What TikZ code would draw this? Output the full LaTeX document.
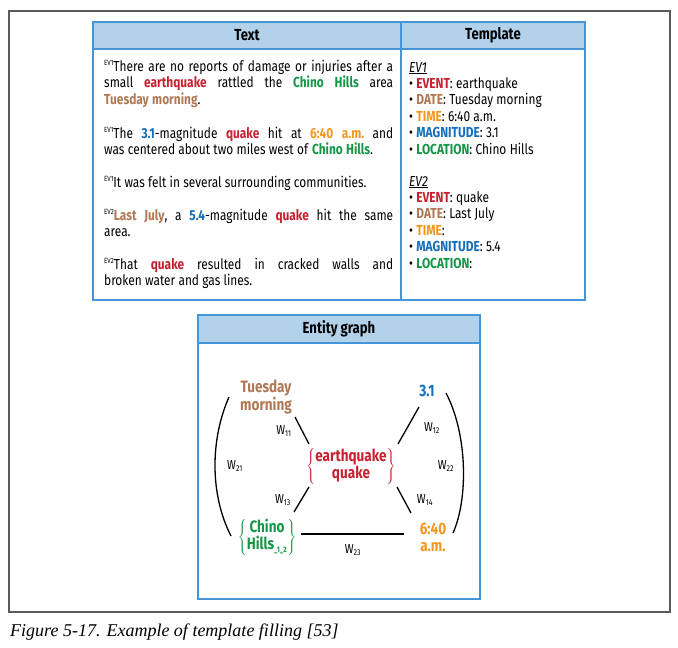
\documentclass[tikz,border=0pt]{standalone}
\usepackage{fontspec}
\setmainfont{Fira Sans}[FakeStretch=0.82]
\newfontfamily\capfont{Liberation Serif}
\usetikzlibrary{calc}
\definecolor{ored}{RGB}{200,32,48}
\definecolor{obrown}{RGB}{176,120,84}
\definecolor{ogreen}{RGB}{20,150,70}
\definecolor{oblue}{RGB}{20,110,190}
\definecolor{oorange}{RGB}{245,150,30}
\definecolor{hdrfill}{RGB}{178,210,235}
\definecolor{hdrline}{RGB}{70,150,215}
\definecolor{framegray}{RGB}{90,90,90}
\newcommand\cred[1]{\textbf{\color{ored}#1}}
\newcommand\cbrown[1]{\textbf{\color{obrown}#1}}
\newcommand\cgreen[1]{\textbf{\color{ogreen}#1}}
\newcommand\cblue[1]{\textbf{\color{oblue}#1}}
\newcommand\corange[1]{\textbf{\color{oorange}#1}}
\newcommand\evmk[1]{\raisebox{0.75ex}{\fontsize{7.5}{7.5}\selectfont #1}}
\newcommand\bodyfnt{\fontsize{14.5}{16.4}\selectfont\frenchspacing\spaceskip=0.23em plus 0.25em minus 0.11em\hyphenpenalty=10000\exhyphenpenalty=10000\hbadness=10000\hfuzz=4pt}
\newcommand\wl[1]{W\textsubscript{\fontsize{8.5}{9}\selectfont#1}}
\begin{document}
\begin{tikzpicture}[x=1pt,y=-1pt,
  para/.style={text width=289pt, align=justify, inner sep=0pt, anchor=north west, font=\bodyfnt},
  tmpl/.style={align=left, inner sep=0pt, anchor=north west, font=\bodyfnt},
  hdr/.style={font=\fontsize{16}{18}\selectfont\bfseries, inner sep=0pt},
  ent/.style={align=center, inner sep=0pt, font=\fontsize{16.5}{17}\selectfont\bfseries},
  wlab/.style={inner sep=0pt, font=\fontsize{13}{14}\selectfont},
  edge/.style={line width=1.3pt, black},
  box/.style={draw=hdrline, line width=1.1pt}]
\useasboundingbox (0,0) rectangle (678,648);
% outer frame
\draw[framegray, line width=1.2pt] (9,11) rectangle (670,612);
% table
\fill[hdrfill] (93,22) rectangle (585,49);
\draw[box] (93,22) rectangle (585,300);
\draw[box] (93,49) -- (585,49);
\draw[box] (401,22) -- (401,300);
\node[hdr] (htext) at (247,35.5) {Text};
\node[hdr] (htmpl) at (493,35.5) {Template};
% paragraphs
\node[para] (p1) at (104,60) {\evmk{EV1}There are no reports of damage or injuries after a\linebreak small \cred{earthquake} rattled the \cgreen{Chino Hills} area\linebreak \cbrown{Tuesday morning}.};
\node[para] (p2) at (104,126.5) {\evmk{EV1}The \cblue{3.1}-magnitude \cred{quake} hit at \corange{6:40 a.m.} and\linebreak was centered about two miles west of \cgreen{Chino Hills}.};
\node[para] (p3) at (104,175.5) {\evmk{EV1}It was felt in several surrounding communities.};
\node[para] (p4) at (104,208.5) {\evmk{EV2}\cbrown{Last July}, a \cblue{5.4}-magnitude \cred{quake} hit the same\linebreak area.};
\node[para] (p5) at (104,257.5) {\evmk{EV2}That \cred{quake} resulted in cracked walls and\linebreak broken water and gas lines.};
% template
\node[tmpl] (t1) at (409,62) {\underline{\textit{EV1}}\\
 • \cred{EVENT}: earthquake\\
 • \cbrown{DATE}: Tuesday morning\\
 • \corange{TIME}: 6:40 a.m.\\
 • \cblue{MAGNITUDE}: 3.1\\
 • \cgreen{LOCATION}: Chino Hills};
\node[tmpl] (t2) at (409,176) {\underline{\textit{EV2}}\\
 • \cred{EVENT}: quake\\
 • \cbrown{DATE}: Last July\\
 • \corange{TIME}:\\
 • \cblue{MAGNITUDE}: 5.4\\
 • \cgreen{LOCATION}:};
% entity graph box
\fill[hdrfill] (198,315) rectangle (480,343);
\draw[box] (198,315) rectangle (480,599);
\draw[box] (198,343) -- (480,343);
\node[hdr] (hent) at (339,329) {Entity graph};
% entity nodes
\node[ent, text=obrown] (tue) at (266,397) {Tuesday\\morning};
\node[ent, text=oblue] (mag) at (427,391) {3.1};
\node[ent, text=ored] (eq) at (351,466) {$\left\{\begin{tabular}{@{}c@{}}earthquake\\[-1pt]quake\end{tabular}\right\}$};
\node[ent, text=ogreen] (loc) at (267,537) {$\left\{\begin{tabular}{@{}c@{}}Chino\\[-1pt]Hills\textsubscript{\fontsize{8}{8}\selectfont\_1\_2}\end{tabular}\right\}$};
\node[ent, text=oorange] (tim) at (433,537) {6:40\\a.m.};
% edge end coordinates
\coordinate (a11) at (295,417); \coordinate (b11) at (309,444);
\coordinate (a12) at (419,407); \coordinate (b12) at (398,444);
\coordinate (a13) at (309,487); \coordinate (b13) at (294,512);
\coordinate (a14) at (397,487); \coordinate (b14) at (411,513);
\coordinate (a23) at (301,534); \coordinate (b23) at (404,534);
\coordinate (a21) at (229,397); \coordinate (b21) at (231,536);
\coordinate (a22) at (446,393); \coordinate (b22) at (453,533);
\draw[edge] (a11) -- (b11);
\draw[edge] (a12) -- (b12);
\draw[edge] (a13) -- (b13);
\draw[edge] (a14) -- (b14);
\draw[edge] (a23) -- (b23);
\draw[edge] (a21) .. controls (210,440) and (210,495) .. (b21);
\draw[edge] (a22) .. controls (468,435) and (468,500) .. (b22);
% labels
\node[wlab] (l11) at (284,431) {\wl{11}};
\node[wlab] (l12) at (432,428) {\wl{12}};
\node[wlab] (l21) at (235,466) {\wl{21}};
\node[wlab] (l22) at (446,466) {\wl{22}};
\node[wlab] (l13) at (283,500) {\wl{13}};
\node[wlab] (l14) at (425,500) {\wl{14}};
\node[wlab] (l23) at (353,550) {\wl{23}};
% caption
\node[anchor=base west, inner sep=0pt, font=\capfont\itshape\fontsize{18}{20}\selectfont] (cap) at (10,636) {Figure 5-17. Example of template filling [53]};
\end{tikzpicture}
\end{document}
